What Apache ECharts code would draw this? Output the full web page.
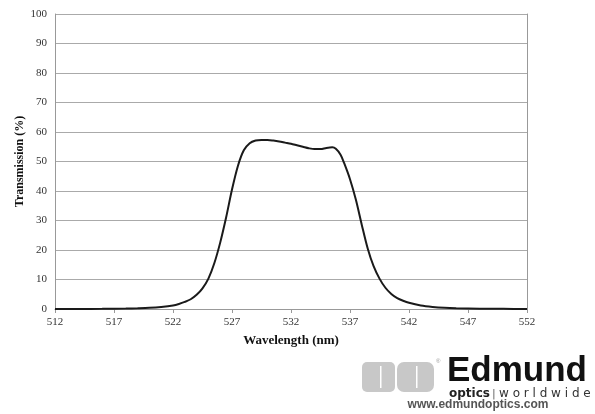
<!DOCTYPE html>
<html>
<head>
<meta charset="utf-8">
<script src="https://cdn.jsdelivr.net/npm/echarts@6/dist/echarts.min.js"></script>
<style>html,body{margin:0;padding:0;background:#fff;}#c{width:595px;height:414px;}</style>
</head>
<body>
<div id="c"></div>
<script>
const wavelength = [512,514,516,518,519,520,521,522,522.5,523,523.5,524,524.5,525,525.5,526,526.5,527,527.5,528,528.5,529,529.5,530,530.5,531,531.5,532,532.5,533,533.5,534,534.5,535,535.5,535.8,536.2,536.5,537,537.5,538,538.5,539,539.5,540,540.5,541,541.5,542,543,544,545,546,548,550,552];
const transmission = [0,0,0.05,0.15,0.25,0.4,0.7,1.2,1.7,2.4,3.3,4.8,7.0,10.3,15.5,22.5,31,40.5,48.5,53.8,56.2,57.1,57.3,57.3,57.1,56.8,56.4,56.0,55.5,55.0,54.5,54.2,54.2,54.6,54.8,54.3,52.3,49.5,44,37,28.5,20.5,14.5,10.3,7.2,5.1,3.7,2.8,2.1,1.2,0.7,0.4,0.25,0.1,0.05,0];
const xStart = 512, xEnd = 552, xStep = 5;
const yTicks = [0,10,20,30,40,50,60,70,80,90,100];

const chart = echarts.init(document.getElementById('c'));
const serif = 'Liberation Serif';
chart.setOption({
  animation: false,
  grid: {left: 55, right: 68, top: 14, bottom: 105},
  xAxis: {
    type: 'value', min: 0, max: xEnd - xStart, interval: xStep,
    name: 'Wavelength (nm)', nameLocation: 'middle', nameGap: 25,
    nameTextStyle: {fontFamily: serif, fontWeight: 'bold', fontSize: 13, color: '#111'},
    axisLine: {lineStyle: {color: '#999', width: 1}},
    axisTick: {show: true, length: 4, lineStyle: {color: '#999'}},
    axisLabel: {formatter: v => String(v + xStart), fontFamily: serif, fontSize: 11, color: '#333', margin: 8},
    splitLine: {show: false}
  },
  yAxis: [{
    type: 'value', min: 0, max: 100, interval: 10,
    name: 'Transmission (%)', nameLocation: 'middle', nameGap: 29, nameMoveOverlap: false,
    nameTextStyle: {fontFamily: serif, fontWeight: 'bold', fontSize: 12, color: '#111'},
    axisLine: {show: true, lineStyle: {color: '#999', width: 1}},
    axisTick: {show: false},
    axisLabel: {fontFamily: serif, fontSize: 11, color: '#333', margin: 8},
    splitLine: {show: true, lineStyle: {color: '#aaa', width: 1}}
  }, {
    type: 'value', min: 0, max: 100, position: 'right',
    axisLine: {show: true, lineStyle: {color: '#999', width: 1}},
    axisTick: {show: false}, axisLabel: {show: false}, splitLine: {show: false}
  }],
  series: [{
    type: 'line', smooth: 0.3, symbol: 'none',
    data: wavelength.map((w, i) => [w - xStart, transmission[i]]),
    lineStyle: {color: '#1a1a1a', width: 2}
  }],
  graphic: [
    {type: 'rect', shape: {x: 362, y: 362, width: 33, height: 30, r: 5}, style: {fill: '#c8c8c8'}},
    {type: 'rect', shape: {x: 380, y: 366, width: 1.5, height: 22}, style: {fill: '#fff'}},
    {type: 'rect', shape: {x: 397, y: 362, width: 37, height: 30, r: 7}, style: {fill: '#c8c8c8'}},
    {type: 'rect', shape: {x: 416, y: 366, width: 1.5, height: 22}, style: {fill: '#fff'}},
    {type: 'text', style: {x: 436, y: 358, text: '®', font: '6px Liberation Sans', fill: '#999'}},
    {type: 'text', style: {x: 447, y: 389, text: 'Edmund', font: 'bold 35px Liberation Sans', fill: '#111', textVerticalAlign: 'bottom'}},
    {type: 'text', style: {x: 449, y: 400, text: 'optics', font: 'bold 12px DejaVu Sans', fill: '#222', textVerticalAlign: 'bottom'}},
    {type: 'text', style: {x: 492, y: 400, text: '|', font: '11px DejaVu Sans', fill: '#666', textVerticalAlign: 'bottom'}},
    {type: 'text', style: {x: 499, y: 400, text: 'w o r l d w i d e', font: '12px DejaVu Sans', fill: '#333', textVerticalAlign: 'bottom'}},
    {type: 'text', style: {x: 478, y: 411, text: 'www.edmundoptics.com', font: 'bold 12px Liberation Sans', fill: '#555', textAlign: 'center', textVerticalAlign: 'bottom'}}
  ]
});
</script>
</body>
</html>
